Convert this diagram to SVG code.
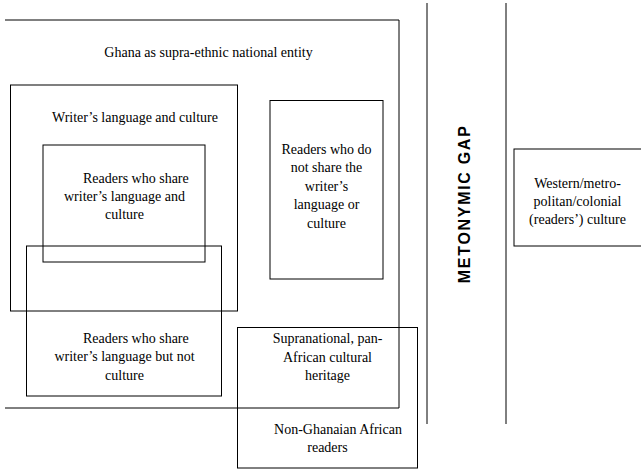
<svg xmlns="http://www.w3.org/2000/svg" width="641" height="470" viewBox="0 0 641 470">
<style>
  .box { fill: none; stroke: #000; stroke-width: 1; }
  .t { font-family: "Liberation Serif", "Times New Roman", serif; font-size: 14px; fill: #000; }
  .c { text-anchor: middle; }
  .gap { font-family: "Liberation Sans", Arial, sans-serif; font-size: 16px; font-weight: bold; fill: #000; text-anchor: middle; }
</style>
<rect width="641" height="470" fill="#fff"/>

<g id="ghana">
  <polyline class="box" points="5,20 399,20 399,408 5,408"/>
  <text class="t c" x="208.5" y="57">Ghana as supra-ethnic national entity</text>
</g>

<g id="writers-language-culture">
  <rect class="box" x="10.5" y="85" width="227" height="226"/>
  <text class="t" x="52" y="122">Writer’s language and culture</text>
</g>

<g id="readers-share-language-culture">
  <rect class="box" x="43" y="145" width="162" height="117"/>
  <text class="t" x="83" y="183">Readers who share</text>
  <text class="t c" x="124.5" y="201">writer’s language and</text>
  <text class="t c" x="124.5" y="219">culture</text>
</g>

<g id="readers-share-language-not-culture">
  <rect class="box" x="26.5" y="246" width="195" height="150"/>
  <text class="t" x="83" y="342.5">Readers who share</text>
  <text class="t c" x="124.5" y="361">writer’s language but not</text>
  <text class="t c" x="124.5" y="379.5">culture</text>
</g>

<g id="readers-not-share">
  <rect class="box" x="270" y="100.5" width="113" height="178.5"/>
  <text class="t c" x="326.5" y="153.5">Readers who do</text>
  <text class="t c" x="326.5" y="172">not share the</text>
  <text class="t c" x="326.5" y="190.5">writer’s</text>
  <text class="t c" x="326.5" y="209">language or</text>
  <text class="t c" x="326.5" y="227.5">culture</text>
</g>

<g id="pan-african">
  <rect class="box" x="237.5" y="327.5" width="180" height="140.5"/>
  <text class="t c" x="327.5" y="343">Supranational, pan-</text>
  <text class="t c" x="327.5" y="361.5">African cultural</text>
  <text class="t c" x="327.5" y="380">heritage</text>
  <text class="t c" x="338" y="434">Non-Ghanaian African</text>
  <text class="t c" x="327.5" y="452">readers</text>
</g>

<g id="metonymic-gap">
  <text class="gap" transform="translate(470,204.7) rotate(-90)" textLength="157" lengthAdjust="spacing">METONYMIC  GAP</text>
</g>

<g id="western-culture">
  <rect class="box" x="514" y="149" width="140" height="97"/>
  <text class="t c" x="577.5" y="187.5">Western/metro-</text>
  <text class="t c" x="577.5" y="205.5">politan/colonial</text>
  <text class="t c" x="577.5" y="223.5">(readers’) culture</text>
</g>

<g id="connectors">
  <line class="box" x1="427" y1="3" x2="427" y2="424"/>
  <line class="box" x1="506" y1="3" x2="506" y2="424"/>
</g>
</svg>
